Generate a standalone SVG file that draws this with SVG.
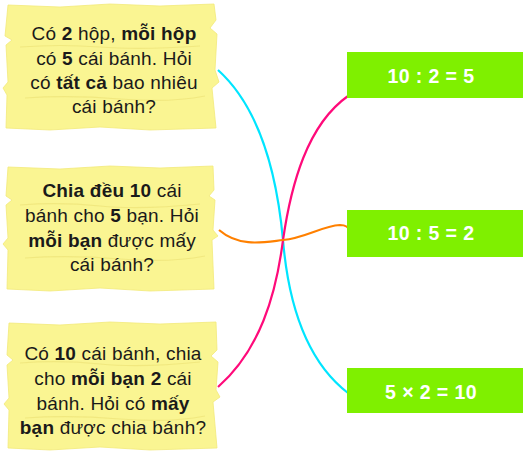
<svg xmlns="http://www.w3.org/2000/svg" width="527" height="458" viewBox="0 0 527 458">
<style>
.note{fill:#faf592;stroke:#f2ea7a;stroke-width:0.8}
.tex{fill:none;stroke:#ece277;stroke-width:1.2;opacity:0.7}
.q{font-family:"Liberation Sans",Arial,sans-serif;font-size:19px;fill:#1a1a1a;text-anchor:middle;letter-spacing:0.2px}
.q tspan.b{font-weight:bold}
.ans{fill:#7ff000}
.at{font-family:"Liberation Sans",Arial,sans-serif;font-size:19.5px;font-weight:bold;fill:#ffffff;text-anchor:middle;letter-spacing:0.4px}
.c{fill:none;stroke-width:2.2}
</style>
<rect width="527" height="458" fill="#ffffff"/>
<g id="connectors">
<path class="c" stroke="#00e5ff" d="M218,70 C260,108 277,175 283,240 C288,300 305,360 348,393"/>
<path class="c" stroke="#ff0a7a" d="M348,96 C307,125 291,185 283,240 C276,295 260,350 218,387"/>
<path class="c" stroke="#ff8000" d="M219,230 C240,248 265,242 283,240 C305,238 322,226 340,225 C346,225 349,228 350,231"/>
</g>
<g id="q1">
<path class="note" d="M8,5 L60,7 L110,4 L160,6 L214,4 L216,20 L210,28 L217,34 L215,70 L219,82 L212,88 L216,128 L150,130 L100,127 L50,130 L6,128 L7,95 L3,88 L8,82 L6,45 L12,40 L5,36 Z"/>
<path class="tex" d="M20,47 Q60,44 100,47 T200,46 M25,98 Q70,95 120,99 T205,96"/>
<text class="q" x="114" y="40">Có <tspan class="b">2</tspan> hộp, <tspan class="b">mỗi hộp</tspan></text>
<text class="q" x="114" y="65">có <tspan class="b">5</tspan> cái bánh. Hỏi</text>
<text class="q" x="114" y="89">có <tspan class="b">tất cả</tspan> bao nhiêu</text>
<text class="q" x="114" y="113">cái bánh?</text>
</g>
<g id="q2">
<path class="note" d="M8,167 L60,169 L110,166 L160,168 L213,166 L214,190 L209,196 L215,200 L213,230 L218,236 L212,240 L214,289 L150,291 L100,288 L50,291 L7,289 L8,250 L3,244 L8,238 L6,205 L12,200 L6,196 Z"/>
<path class="tex" d="M20,205 Q60,202 100,206 T200,204 M25,258 Q70,255 120,259 T205,256"/>
<text class="q" x="112" y="197"><tspan class="b">Chia đều 10</tspan> cái</text>
<text class="q" x="112" y="222">bánh cho <tspan class="b">5</tspan> bạn. Hỏi</text>
<text class="q" x="112" y="247"><tspan class="b">mỗi bạn</tspan> được mấy</text>
<text class="q" x="112" y="271">cái bánh?</text>
</g>
<g id="q3">
<path class="note" d="M9,323 L60,325 L110,322 L160,324 L216,322 L217,350 L211,356 L218,362 L216,390 L220,397 L213,402 L217,448 L150,450 L100,447 L50,450 L8,448 L9,410 L4,404 L9,398 L7,365 L13,360 L7,355 Z"/>
<path class="tex" d="M20,363 Q60,360 100,364 T200,362 M25,418 Q70,415 120,419 T205,416"/>
<text class="q" x="113" y="360">Có <tspan class="b">10</tspan> cái bánh, chia</text>
<text class="q" x="113" y="385">cho <tspan class="b">mỗi bạn 2</tspan> cái</text>
<text class="q" x="113" y="410">bánh. Hỏi có <tspan class="b">mấy</tspan></text>
<text class="q" x="113" y="434"><tspan class="b">bạn</tspan> được chia bánh?</text>
</g>
<g id="a1">
<rect class="ans" x="347" y="52" width="176" height="46"/>
<text class="at" x="431" y="83">10 : 2 = 5</text>
</g>
<g id="a2">
<rect class="ans" x="347" y="210" width="176" height="47"/>
<text class="at" x="431" y="240">10 : 5 = 2</text>
</g>
<g id="a3">
<rect class="ans" x="347" y="368" width="176" height="45"/>
<text class="at" x="431" y="399">5 × 2 = 10</text>
</g>
</svg>
